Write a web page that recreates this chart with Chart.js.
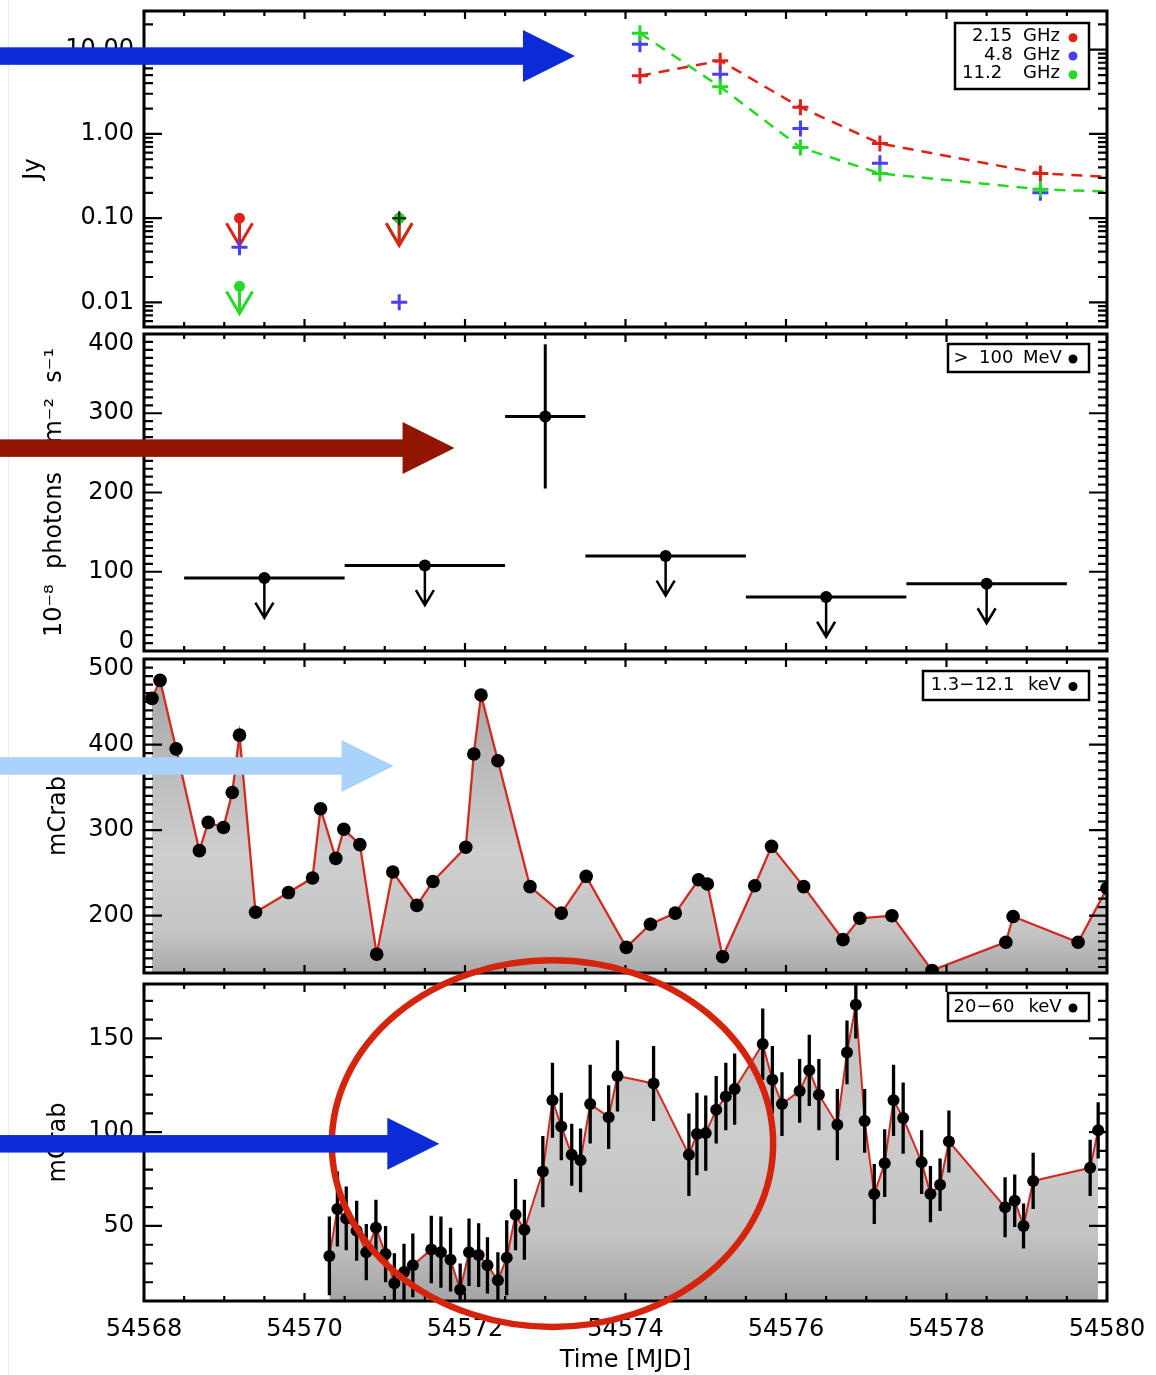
<!DOCTYPE html>
<html lang="en">
<head>
<meta charset="utf-8">
<title>Multi-wavelength light curves</title>
<script src="https://cdn.jsdelivr.net/npm/chart.js@4.4.1/dist/chart.umd.min.js"></script>
<style>
  html, body { margin: 0; padding: 0; background: #fff; }
  #page { position: relative; width: 1156px; height: 1375px; overflow: hidden; background: #fff; }
  #page canvas { position: absolute; left: 0; top: 0; }
  #edge { position: absolute; left: 8px; top: 0; width: 1px; height: 1375px; background: #ececec; }
</style>
</head>
<body>
<div id="page">
  <div id="edge"></div>
  <canvas id="radioPanel" width="1156" height="1375"></canvas>
  <canvas id="gammaPanel" width="1156" height="1375"></canvas>
  <canvas id="softPanel" width="1156" height="1375"></canvas>
  <canvas id="hardPanel" width="1156" height="1375"></canvas>
  <canvas id="callouts" width="1156" height="1375"></canvas>
</div>
<script>
// ---------------- shared time axis (MJD) ----------------
const timeMin = 54568;
const timeMax = 54580;
const timeTicks = [54568, 54570, 54572, 54574, 54576, 54578, 54580];

// ---------------- radio flux density (Jy) ----------------
const radioTime = [54574.18, 54575.18, 54576.18, 54577.17, 54579.17, 54581.17];
const radio215 = [4.9, 7.4, 2.07, 0.77, 0.34, 0.27];
const radio112 = [15.7, 3.63, 0.69, 0.34, 0.22, 0.19];
const radio48Time = [54569.19, 54571.18, 54574.18, 54575.18, 54576.18, 54577.17, 54579.17];
const radio48 = [0.045, 0.010, 11.6, 5.1, 1.16, 0.45, 0.20];
const radioLimitTime = [54569.19, 54571.18];
const radio215Limit = [0.10, 0.10];
const radio112Limit = [0.0155, 0.10];
const radioMixedTime = [54571.18];
const radioMixed = [0.10];
const radioTicks = [0.01, 0.1, 1, 10];

// ---------------- gamma rays > 100 MeV (1e-8 ph cm^-2 s^-1) ----------------
const gammaTime = [54569.5, 54571.5, 54573.0, 54574.5, 54576.5, 54578.5];
const gammaHalfBin = [1.0, 1.0, 0.5, 1.0, 1.0, 1.0];
const gammaFlux = [92, 108, 296, 120, 68, 85];
const gammaFluxErr = [0, 0, 91, 0, 0, 0];
const gammaIsLimit = [true, true, false, true, true, true];
const gammaTicks = [0, 100, 200, 300, 400];

// ---------------- soft X-rays 1.3-12.1 keV (mCrab) ----------------
const softTime = [54568.10, 54568.20, 54568.40, 54568.69, 54568.80, 54568.99, 54569.10, 54569.19, 54569.39, 54569.80,
  54570.10, 54570.20, 54570.39, 54570.49, 54570.69, 54570.90, 54571.10, 54571.40, 54571.60, 54572.01,
  54572.11, 54572.20, 54572.41, 54572.81, 54573.20, 54573.51, 54574.01, 54574.31, 54574.62, 54574.91,
  54575.02, 54575.21, 54575.61, 54575.82, 54576.22, 54576.71, 54576.92, 54577.32, 54577.82, 54578.74,
  54578.83, 54579.64, 54580.00];
const softFlux = [454, 475, 395, 276, 309, 303, 344, 411, 204, 227,
  244, 325, 267, 301, 283, 155, 251, 212, 240, 280,
  389, 458, 381, 234, 203, 246, 163, 190, 203, 242,
  237, 152, 235, 281, 234, 172, 197, 200, 136, 169,
  199, 169, 232];
const softTicks = [200, 300, 400, 500];

// ---------------- hard X-rays 20-60 keV (mCrab) ----------------
const hardTime = [54570.31, 54570.41, 54570.52, 54570.65, 54570.77, 54570.89, 54571.01, 54571.12, 54571.24, 54571.35,
  54571.58, 54571.70, 54571.82, 54571.94, 54572.05, 54572.17, 54572.28, 54572.41, 54572.52, 54572.63,
  54572.74, 54572.97, 54573.09, 54573.20, 54573.33, 54573.44, 54573.56, 54573.79, 54573.90, 54574.35,
  54574.79, 54574.89, 54575.00, 54575.13, 54575.25, 54575.36, 54575.71, 54575.83, 54575.95, 54576.17,
  54576.29, 54576.41, 54576.64, 54576.76, 54576.87, 54576.98, 54577.10, 54577.23, 54577.34, 54577.46,
  54577.69, 54577.80, 54577.92, 54578.03, 54578.73, 54578.85, 54578.96, 54579.08, 54579.79, 54579.89];
const hardFlux = [34, 59, 54, 47.5, 36, 49, 35, 19.5, 25.5, 29,
  37.5, 36, 32, 16, 36, 34.5, 29, 21, 33, 56,
  48, 79, 117, 103, 88, 85, 115, 108, 130, 126,
  88, 99, 99.5, 112, 119, 123, 147, 128, 115, 122,
  133, 120, 104, 142.5, 168, 106, 67, 83.5, 117, 107.5,
  84, 67, 72, 95, 60, 63.5, 50, 74, 81, 101];
const hardFluxErr = [21, 20, 17, 16, 15, 15, 15, 16, 15, 17,
  18, 19, 17, 14, 18, 17, 15, 15, 20, 19,
  16, 19, 20, 18, 16.5, 17, 21, 17, 19, 20,
  22, 22, 20, 18, 18, 19, 19, 18, 17, 17,
  19, 19, 19, 17, 18, 17, 16, 18, 19, 19,
  17, 15, 14, 16.5, 16, 14, 12, 15, 15, 15];
const hardTicks = [50, 100, 150];

// ---------------- look ----------------
const FONT = "'DejaVu Sans', sans-serif";
const LABEL_SIZE = 24;
const RED = '#dc2318';
const BLUE = '#4a3ff0';
const GREEN = '#26d926';
const PAGE_H = 1375;
const AXIS_W = 144;
const RIGHT_PAD = 49;
const panelRows = [
  { top: 10, bottom: 327 },
  { top: 334, bottom: 651 },
  { top: 659, bottom: 973 },
  { top: 984, bottom: 1301 }
];

const pts = (xs, ys) => xs.map((x, i) => ({ x, y: ys[i] }));

// inward IDL-style ticks on all four sides plus a heavy frame
function makeFrame(major, minor) {
  return {
    id: 'idlFrame',
    afterDatasetsDraw(chart) {
      const { ctx, chartArea: a } = chart;
      const xs = chart.scales.x, ys = chart.scales.y;
      ctx.save();
      ctx.strokeStyle = '#000';
      ctx.lineWidth = 2.2;
      ctx.beginPath();
      for (let v = timeMin; v <= timeMax + 1e-9; v += 0.5) {
        const px = xs.getPixelForValue(v);
        const isMajor = Math.abs(v / 2 - Math.round(v / 2)) < 1e-9;
        const len = isMajor ? 8 : 5;
        ctx.moveTo(px, a.top); ctx.lineTo(px, a.top + len);
        ctx.moveTo(px, a.bottom); ctx.lineTo(px, a.bottom - len);
      }
      const yTick = (v, len) => {
        if (v < ys.min || v > ys.max) return;
        const py = ys.getPixelForValue(v);
        ctx.moveTo(a.left, py); ctx.lineTo(a.left + len, py);
        ctx.moveTo(a.right, py); ctx.lineTo(a.right - len, py);
      };
      minor.forEach(v => yTick(v, 9));
      major.forEach(v => yTick(v, 18));
      ctx.stroke();
      ctx.lineWidth = 3;
      ctx.strokeRect(a.left, a.top, a.right - a.left, a.bottom - a.top);
      ctx.restore();
    }
  };
}

// boxed key in the upper right corner of a panel
function makeKey(spec) {
  return {
    id: 'panelKey',
    afterDraw(chart) {
      const { ctx, chartArea: a } = chart;
      const left = a.right - spec.rightInset - spec.width;
      const top = a.top + spec.topInset;
      ctx.save();
      ctx.fillStyle = '#fff';
      ctx.fillRect(left, top, spec.width, spec.height);
      ctx.lineWidth = 2.5;
      ctx.strokeStyle = '#000';
      ctx.strokeRect(left, top, spec.width, spec.height);
      ctx.font = `18px ${FONT}`;
      ctx.textBaseline = 'middle';
      ctx.textAlign = 'left';
      spec.rows.forEach(row => {
        const cy = top + row.dy;
        ctx.fillStyle = '#000';
        row.parts.forEach(([txt, dx]) => ctx.fillText(txt, left + dx, cy));
        ctx.fillStyle = row.color;
        ctx.beginPath();
        ctx.arc(left + spec.width - 16, cy + 1, 4.5, 0, Math.PI * 2);
        ctx.fill();
      });
      ctx.restore();
    }
  };
}

function downArrow(ctx, x, y0, y1, halfW, headH, color, lw) {
  ctx.strokeStyle = color;
  ctx.lineWidth = lw;
  ctx.beginPath();
  ctx.moveTo(x, y0); ctx.lineTo(x, y1);
  ctx.moveTo(x - halfW, y1 - headH); ctx.lineTo(x, y1); ctx.lineTo(x + halfW, y1 - headH);
  ctx.stroke();
}

// labels sitting on the top or bottom edge are nudged inside the frame
function edgeNudge(fmt) {
  return function (v) {
    const txt = fmt(v);
    if (Math.abs(v - this.max) < 1e-9) return ['', txt];
    if (Math.abs(v - this.min) < 1e-9) return [txt, ''];
    return txt;
  };
}

function yAxis({ type = 'linear', min, max, ticks, fmt, title, titlePad, titleSize = LABEL_SIZE }) {
  return {
    type, min, max, position: 'left',
    grid: { display: false, drawTicks: false },
    border: { display: false },
    afterBuildTicks: s => { s.ticks = ticks.map(v => ({ value: v })); },
    afterFit: s => { s.width = AXIS_W; s.paddingTop = 0; s.paddingBottom = 0; },
    ticks: { padding: 10, color: '#000', autoSkip: false, font: { family: FONT, size: LABEL_SIZE, lineHeight: 0.8 }, callback: edgeNudge(fmt) },
    title: { display: true, text: title, color: '#000', font: { family: FONT, size: titleSize }, padding: { top: titlePad, bottom: 0 } }
  };
}

const hiddenX = { type: 'linear', min: timeMin, max: timeMax, display: false };

function baseOptions(row, scales) {
  const last = row === 3;
  return {
    responsive: false,
    maintainAspectRatio: false,
    devicePixelRatio: 1,
    animation: false,
    events: [],
    layout: { padding: { left: 0, right: RIGHT_PAD, top: panelRows[row].top, bottom: last ? 0 : PAGE_H - panelRows[row].bottom } },
    plugins: { legend: { display: false }, tooltip: { enabled: false } },
    scales
  };
}

function shade(stops) {
  return (context) => {
    const { ctx, chartArea } = context.chart;
    if (!chartArea) return 'rgba(0,0,0,0)';
    const g = ctx.createLinearGradient(0, chartArea.top, 0, chartArea.bottom);
    stops.forEach(([o, c]) => g.addColorStop(o, c));
    return g;
  };
}

function logMinors(lo, hi) {
  const out = [];
  for (let d = 0.001; d <= 100; d *= 10) {
    for (let k = 2; k <= 9; k++) {
      const v = k * d;
      if (v >= lo && v <= hi) out.push(v);
    }
  }
  return out;
}
function linMinors(lo, hi, step) {
  const out = [];
  for (let v = Math.ceil(lo / step) * step; v <= hi; v += step) out.push(v);
  return out;
}

const panels = [];

// ---------------- panel 1: radio ----------------
const radioMin = 0.0051, radioMax = 28.8;
panels.push(new Chart(document.getElementById('radioPanel'), {
  type: 'scatter',
  data: {
    datasets: [
      { data: pts(radioMixedTime, radioMixed), pointStyle: 'cross', pointRadius: 7, pointBorderWidth: 2.5, pointBorderColor: '#173417', borderColor: '#173417' },
      { label: '11.2 GHz', data: pts(radioTime, radio112), showLine: true, borderColor: GREEN, borderWidth: 2.5, borderDash: [11, 8],
        pointStyle: 'cross', pointRadius: 8, pointBorderWidth: 3, pointBorderColor: GREEN },
      { label: '4.8 GHz', data: pts(radio48Time, radio48), showLine: false, borderColor: BLUE,
        pointStyle: 'cross', pointRadius: 8, pointBorderWidth: 3, pointBorderColor: BLUE },
      { label: '2.15 GHz', data: pts(radioTime, radio215), showLine: true, borderColor: RED, borderWidth: 2.5, borderDash: [11, 8],
        pointStyle: 'cross', pointRadius: 8, pointBorderWidth: 3, pointBorderColor: RED }
    ]
  },
  options: baseOptions(0, {
    x: hiddenX,
    y: yAxis({ type: 'logarithmic', min: radioMin, max: radioMax, ticks: radioTicks, fmt: v => Number(v).toFixed(2), title: 'Jy', titlePad: 19 })
  }),
  plugins: [
    {
      id: 'radioLimits',
      beforeDatasetsDraw(chart) {
        const { ctx, chartArea: a } = chart;
        const xs = chart.scales.x, ys = chart.scales.y;
        ctx.save();
        ctx.beginPath(); ctx.rect(a.left, a.top, a.right - a.left, a.bottom - a.top); ctx.clip();
        const sets = [{ v: radio112Limit, c: GREEN }, { v: radio215Limit, c: RED }];
        sets.forEach(s => s.v.forEach((val, i) => {
          const px = xs.getPixelForValue(radioLimitTime[i]);
          downArrow(ctx, px, ys.getPixelForValue(val), ys.getPixelForValue(val / 2.1), 13, 22, s.c, 3);
        }));
        [{ v: radio215Limit, c: RED }, { v: radio112Limit, c: GREEN }].forEach(s => s.v.forEach((val, i) => {
          ctx.fillStyle = s.c;
          ctx.beginPath();
          ctx.arc(xs.getPixelForValue(radioLimitTime[i]), ys.getPixelForValue(val), 5.5, 0, Math.PI * 2);
          ctx.fill();
        }));
        ctx.restore();
      }
    },
    makeFrame(radioTicks, logMinors(radioMin, radioMax)),
    makeKey({
      width: 134, height: 66, rightInset: 18, topInset: 12,
      rows: [
        { dy: 13.7, color: RED, parts: [['2.15', 17], ['GHz', 68]] },
        { dy: 32, color: BLUE, parts: [['4.8', 29], ['GHz', 68]] },
        { dy: 50.7, color: GREEN, parts: [['11.2', 7], ['GHz', 68]] }
      ]
    })
  ]
}));

// ---------------- panel 2: gamma rays ----------------
panels.push(new Chart(document.getElementById('gammaPanel'), {
  type: 'scatter',
  data: {
    datasets: [
      { label: '> 100 MeV', data: pts(gammaTime, gammaFlux), pointRadius: 6, pointBackgroundColor: '#000', pointBorderWidth: 0 }
    ]
  },
  options: baseOptions(1, {
    x: hiddenX,
    y: yAxis({ min: 0, max: 400, ticks: gammaTicks, fmt: v => String(v), title: '10\u207B\u2078  photons  cm\u207B\u00B2  s\u207B\u00B9', titlePad: 40 })
  }),
  plugins: [
    {
      id: 'gammaBars',
      beforeDatasetsDraw(chart) {
        const { ctx } = chart;
        const xs = chart.scales.x, ys = chart.scales.y;
        ctx.save();
        ctx.strokeStyle = '#000';
        gammaTime.forEach((t, i) => {
          const py = ys.getPixelForValue(gammaFlux[i]);
          const px = xs.getPixelForValue(t);
          ctx.lineWidth = 3;
          ctx.beginPath();
          ctx.moveTo(xs.getPixelForValue(t - gammaHalfBin[i]), py);
          ctx.lineTo(xs.getPixelForValue(t + gammaHalfBin[i]), py);
          ctx.stroke();
          if (gammaIsLimit[i]) {
            downArrow(ctx, px, py, ys.getPixelForValue(gammaFlux[i] - 50), 9, 15, '#000', 2.5);
          } else {
            ctx.lineWidth = 3;
            ctx.beginPath();
            ctx.moveTo(px, ys.getPixelForValue(gammaFlux[i] + gammaFluxErr[i]));
            ctx.lineTo(px, ys.getPixelForValue(gammaFlux[i] - gammaFluxErr[i]));
            ctx.stroke();
          }
        });
        ctx.restore();
      }
    },
    makeFrame(gammaTicks, linMinors(0, 400, 10)),
    makeKey({ width: 141, height: 28, rightInset: 18, topInset: 10,
      rows: [{ dy: 14, color: '#000', parts: [['>', 5.5], ['100', 31], ['MeV', 75]] }] })
  ]
}));

// ---------------- panel 3: soft X-rays ----------------
panels.push(new Chart(document.getElementById('softPanel'), {
  type: 'scatter',
  data: {
    datasets: [
      { label: '1.3\u201312.1 keV', data: pts(softTime, softFlux), pointRadius: 6.8, pointBackgroundColor: '#000', pointBorderWidth: 0, showLine: false },
      { data: pts(softTime, softFlux), showLine: true, pointRadius: 0, borderColor: '#d42a20', borderWidth: 2.3, fill: 'start',
        backgroundColor: shade([[0, '#a0a0a0'], [0.3, '#b8b8b8'], [0.62, '#cecece'], [0.86, '#c6c6c6'], [1, '#a9a9a9']]) }
    ]
  },
  options: baseOptions(2, {
    x: hiddenX,
    y: yAxis({ min: 133, max: 500, ticks: softTicks, fmt: v => String(v), title: 'mCrab', titlePad: 44 })
  }),
  plugins: [
    makeFrame(softTicks, linMinors(133, 500, 10)),
    makeKey({ width: 166, height: 29, rightInset: 18, topInset: 12,
      rows: [{ dy: 14.5, color: '#000', parts: [['1.3\u221212.1', 7.7], ['keV', 105]] }] })
  ]
}));

// ---------------- panel 4: hard X-rays ----------------
panels.push(new Chart(document.getElementById('hardPanel'), {
  type: 'scatter',
  data: {
    datasets: [
      { label: '20\u201360 keV', data: pts(hardTime, hardFlux), pointRadius: 6, pointBackgroundColor: '#000', pointBorderWidth: 0, showLine: false },
      { data: pts(hardTime, hardFlux), showLine: true, pointRadius: 0, borderColor: '#d42a20', borderWidth: 2, fill: 'start',
        backgroundColor: shade([[0, '#bcbcbc'], [0.45, '#cdcdcd'], [0.8, '#c3c3c3'], [1, '#a4a4a4']]) }
    ]
  },
  options: baseOptions(3, {
    x: {
      type: 'linear', min: timeMin, max: timeMax, position: 'bottom',
      grid: { display: false, drawTicks: false },
      border: { display: false },
      afterBuildTicks: s => { s.ticks = timeTicks.map(v => ({ value: v })); },
      afterFit: s => { s.height = PAGE_H - panelRows[3].bottom; s.paddingLeft = 0; s.paddingRight = 0; },
      ticks: { padding: 14, maxRotation: 0, minRotation: 0, autoSkip: false, color: '#000', font: { family: FONT, size: LABEL_SIZE }, callback: v => String(v) },
      title: { display: true, text: 'Time [MJD]', color: '#000', font: { family: FONT, size: LABEL_SIZE }, padding: { top: 0, bottom: 0 } }
    },
    y: yAxis({ min: 10, max: 179, ticks: hardTicks, fmt: v => String(v), title: 'mCrab', titlePad: 44 })
  }),
  plugins: [
    {
      id: 'hardErrors',
      afterDatasetDraw(chart, args) {
        if (args.index !== 1) return;
        const { ctx, chartArea: a } = chart;
        const xs = chart.scales.x, ys = chart.scales.y;
        ctx.save();
        ctx.beginPath(); ctx.rect(a.left, a.top, a.right - a.left, a.bottom - a.top); ctx.clip();
        ctx.strokeStyle = '#000';
        ctx.lineWidth = 3.3;
        ctx.beginPath();
        hardTime.forEach((t, i) => {
          const px = xs.getPixelForValue(t);
          ctx.moveTo(px, ys.getPixelForValue(hardFlux[i] + hardFluxErr[i]));
          ctx.lineTo(px, ys.getPixelForValue(hardFlux[i] - hardFluxErr[i]));
        });
        ctx.stroke();
        ctx.restore();
      }
    },
    makeFrame(hardTicks, linMinors(10, 179, 10)),
    makeKey({ width: 141, height: 28, rightInset: 18, topInset: 9,
      rows: [{ dy: 14, color: '#000', parts: [['20\u221260', 5.5], ['keV', 80.4]] }] })
  ]
}));

// ---------------- highlight arrows and ring over the panels ----------------
const calloutArrows = [
  { panel: 0, level: 8.4, tip: 54573.37, color: '#0b2bd6' },
  { panel: 1, level: 256, tip: 54571.87, color: '#901600' },
  { panel: 2, level: 375, tip: 54571.11, color: '#a9d3fa' },
  { panel: 3, level: 93.8, tip: 54571.68, color: '#0b2bd6' }
];
const calloutRing = { panel: 3, time: 54573.09, level: 93.9, halfSpanDays: 2.75, halfSpanFlux: 97.7, color: '#d6230b' };

(function drawCallouts() {
  const ctx = document.getElementById('callouts').getContext('2d');
  const rc = panels[calloutRing.panel];
  const rx0 = rc.scales.x.getPixelForValue(calloutRing.time);
  const ry0 = rc.scales.y.getPixelForValue(calloutRing.level);
  const rx = rc.scales.x.getPixelForValue(calloutRing.time + calloutRing.halfSpanDays) - rx0;
  const ry = ry0 - rc.scales.y.getPixelForValue(calloutRing.level + calloutRing.halfSpanFlux);
  ctx.strokeStyle = calloutRing.color;
  ctx.lineWidth = 6.5;
  ctx.beginPath();
  ctx.ellipse(rx0, ry0, rx, ry, 0, 0, Math.PI * 2);
  ctx.stroke();

  const shaft = 17.5, headLen = 52, headHalf = 26;
  calloutArrows.forEach(ar => {
    const c = panels[ar.panel];
    const yc = c.scales.y.getPixelForValue(ar.level);
    const tipX = c.scales.x.getPixelForValue(ar.tip);
    ctx.fillStyle = ar.color;
    ctx.fillRect(0, yc - shaft / 2, tipX - headLen + 1, shaft);
    ctx.beginPath();
    ctx.moveTo(tipX - headLen, yc - headHalf);
    ctx.lineTo(tipX, yc);
    ctx.lineTo(tipX - headLen, yc + headHalf);
    ctx.closePath();
    ctx.fill();
  });
})();
</script>
</body>
</html>
